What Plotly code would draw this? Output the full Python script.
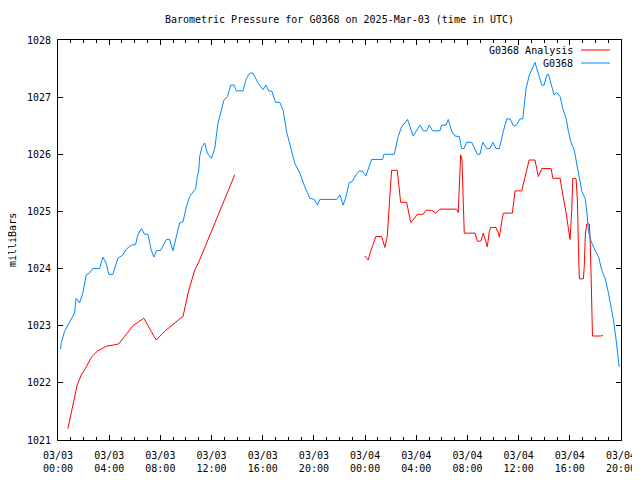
import pandas as pd
import plotly.graph_objects as go

# ---- data (hours since 2025-03-03 00:00 UTC, pressure in mb) ----
blue_h = [0.20,0.25,0.51,0.77,1.03,1.29,1.42,1.68,1.94,2.21,
          2.46,2.72,3.25,3.51,3.77,3.97,4.29,4.68,5.07,5.34,
          5.73,6.06,6.24,6.51,6.77,7.03,7.29,7.50,7.68,8.02,
          8.47,8.72,8.98,9.25,9.51,9.77,10.03,10.29,10.55,10.76,
          10.89,11.00,11.07,11.25,11.46,11.67,11.99,12.25,12.50,12.72,
          12.97,13.24,13.50,13.76,13.94,14.46,14.73,14.98,15.24,15.63,
          16.02,16.24,16.47,16.73,17.00,17.33,17.59,17.86,18.25,18.51,
          18.90,19.29,19.68,20.02,20.28,20.46,21.77,22.03,22.28,22.50,
          22.75,23.02,23.28,23.54,23.80,24.06,24.51,25.37,25.47,26.28,
          26.59,26.85,27.32,27.56,27.76,28.29,28.54,28.81,29.01,29.28,
          29.85,29.98,30.32,30.50,30.77,31.02,31.36,31.55,31.73,31.94,
          32.33,32.77,32.98,33.19,33.51,33.76,33.98,34.23,34.49,34.80,
          35.07,35.33,35.59,35.80,36.11,36.32,36.42,36.58,36.84,37.10,
          37.28,37.42,37.68,37.81,37.99,38.20,38.33,38.59,38.77,38.98,
          39.24,39.45,39.71,39.89,40.08,40.34,40.55,40.73,40.94,41.20,
          41.33,41.46,41.67,41.98,42.24,42.50,42.76,43.02,43.23,43.41,
          43.62,43.80,43.86]
blue_p = [1022.59,1022.69,1022.90,1023.01,1023.10,1023.22,1023.48,1023.40,1023.57,1023.89,
          1023.92,1024.00,1024.00,1024.20,1024.09,1023.90,1023.90,1024.18,1024.24,1024.34,
          1024.41,1024.42,1024.59,1024.70,1024.60,1024.60,1024.32,1024.20,1024.31,1024.32,
          1024.51,1024.51,1024.31,1024.56,1024.80,1024.82,1025.08,1025.26,1025.35,1025.40,
          1025.61,1025.72,1025.96,1026.13,1026.20,1026.02,1025.93,1026.10,1026.54,1026.75,
          1026.95,1027.01,1027.21,1027.21,1027.11,1027.11,1027.33,1027.42,1027.42,1027.25,
          1027.13,1027.21,1027.11,1027.10,1026.91,1026.91,1026.78,1026.40,1026.08,1025.84,
          1025.67,1025.43,1025.23,1025.21,1025.11,1025.21,1025.21,1025.29,1025.11,1025.25,
          1025.50,1025.53,1025.64,1025.71,1025.70,1025.62,1025.91,1025.91,1026.00,1026.00,
          1026.31,1026.48,1026.61,1026.43,1026.32,1026.51,1026.41,1026.41,1026.51,1026.41,
          1026.41,1026.51,1026.51,1026.61,1026.40,1026.32,1026.31,1026.10,1026.10,1026.21,
          1026.21,1026.00,1026.00,1026.21,1026.10,1026.10,1026.21,1026.10,1026.10,1026.40,
          1026.62,1026.62,1026.50,1026.50,1026.62,1026.62,1026.86,1027.15,1027.39,1027.53,
          1027.61,1027.50,1027.33,1027.21,1027.21,1027.39,1027.40,1027.21,1027.04,1027.08,
          1027.01,1026.80,1026.63,1026.40,1026.22,1026.08,1025.81,1025.55,1025.35,1025.23,
          1025.00,1024.65,1024.47,1024.32,1024.21,1023.97,1023.83,1023.57,1023.33,1023.10,
          1022.75,1022.34,1022.28]

red1_h = [0.77,1.50,1.82,2.21,2.64,3.11,3.77,4.29,4.73,5.20,5.85,6.24,6.71,
          7.29,7.68,8.33,8.98,9.51,9.77,10.16,10.68,11.07,13.81]
red1_p = [1021.20,1021.96,1022.14,1022.28,1022.46,1022.56,1022.64,1022.66,1022.68,1022.81,
          1023.00,1023.06,1023.13,1022.90,1022.75,1022.90,1023.03,1023.12,1023.16,1023.57,
          1023.97,1024.15,1025.64]

red2_h = [23.98,24.24,24.43,24.63,24.84,25.29,25.41,25.55,25.73,25.88,
          26.07,26.51,26.67,26.78,27.25,27.37,27.56,27.76,28.08,28.54,
          28.76,29.20,29.54,29.85,31.16,31.28,31.36,31.47,31.57,31.67,
          31.75,32.59,32.77,33.04,33.24,33.55,33.71,33.82,34.23,34.41,
          34.49,34.68,34.80,35.51,35.59,35.72,36.24,36.50,36.64,36.82,
          37.28,37.42,37.54,37.81,38.54,38.67,39.24,39.37,39.58,39.71,
          39.89,40.02,40.15,40.23,40.49,40.59,40.70,40.75,41.06,41.12,
          41.22,41.33,41.53,41.59,41.67,41.72,41.77,42.43,42.58]
red2_p = [1024.22,1024.15,1024.30,1024.44,1024.56,1024.56,1024.47,1024.37,1024.56,1025.02,
          1025.72,1025.72,1025.43,1025.16,1025.16,1025.02,1024.81,1024.85,1024.95,1024.95,
          1025.02,1025.02,1024.97,1025.04,1025.04,1024.98,1025.32,1025.99,1025.90,1024.87,
          1024.62,1024.62,1024.48,1024.48,1024.62,1024.38,1024.65,1024.72,1024.72,1024.62,
          1024.55,1024.82,1024.97,1024.97,1025.14,1025.36,1025.36,1025.58,1025.75,1025.90,
          1025.90,1025.75,1025.61,1025.75,1025.75,1025.58,1025.58,1025.40,1025.17,1024.97,
          1024.70,1024.51,1025.02,1025.58,1025.57,1025.20,1024.12,1023.82,1023.82,1024.00,
          1024.62,1024.78,1024.78,1024.50,1023.80,1023.13,1022.82,1022.82,1022.83]

series_names = ["G0368 Analysis", "G0368"]
series_colors = ["#ff0000", "#0088ff"]
y_ticks = [1021, 1022, 1023, 1024, 1025, 1026, 1027, 1028]

start = pd.Timestamp("2025-03-03 00:00")
end = pd.Timestamp("2025-03-04 20:00")


def to_time(hours):
    return [start + pd.Timedelta(hours=h) for h in hours]


red_x = to_time(red1_h) + [None] + to_time(red2_h)
red_y = red1_p + [None] + red2_p

FONT = "DejaVu Sans Mono"

fig = go.Figure()
fig.add_trace(go.Scatter(x=red_x, y=red_y, mode="lines", name=series_names[0],
                         line=dict(color=series_colors[0], width=1), connectgaps=False))
fig.add_trace(go.Scatter(x=to_time(blue_h), y=blue_p, mode="lines", name=series_names[1],
                         line=dict(color=series_colors[1], width=1)))

tickvals = pd.date_range(start, end, freq="4h")
ticktext = [t.strftime("%m/%d<br>%H:%M") for t in tickvals]

# page body has an 8px default margin; figure is sized/offset to compensate
W, H = 640, 472
fig.update_layout(
    width=W, height=H,
    margin=dict(l=50, r=27, t=32, b=40, autoexpand=False),
    paper_bgcolor="white", plot_bgcolor="white",
    showlegend=False,
    font=dict(family=FONT, size=10, color="black"),
    title=dict(text="Barometric Pressure for G0368 on 2025-Mar-03 (time in UTC)",
               x=0.5, xref="paper", xanchor="center",
               y=1 - 11 / H, yref="container", yanchor="middle",
               font=dict(family=FONT, size=10, color="black")),
    xaxis=dict(range=[start, end], tickvals=list(tickvals), ticktext=ticktext,
               showgrid=False, zeroline=False, showline=True, linecolor="black",
               linewidth=1, mirror="ticks", ticks="inside", ticklen=5,
               tickcolor="black", tickfont=dict(family=FONT, size=10),
               ticklabelstandoff=6, automargin=False,
               minor=dict(dtick=3600000, tick0=start, ticks="inside", ticklen=3,
                          tickcolor="black", showgrid=False)),
    yaxis=dict(range=[1021, 1028], tickvals=y_ticks, showgrid=False,
               zeroline=False, showline=True, linecolor="black", linewidth=1,
               mirror="ticks", ticks="inside", ticklen=5, tickcolor="black",
               tickfont=dict(family=FONT, size=10), ticklabelstandoff=4,
               automargin=False),
)

PW = 563.0  # plot-area width in px
PH = 400.0  # plot-area height in px

# y axis label
fig.add_annotation(text="milliBars", xref="paper", yref="paper",
                   x=(12 - 58) / PW, y=0.5, showarrow=False, textangle=-90,
                   xanchor="center", yanchor="middle",
                   font=dict(family=FONT, size=10, color="black"))

# gnuplot-style legend: text on left, sample line on right
leg_y = [1 - (50 - 40) / PH, 1 - (63 - 40) / PH]
for name, color, yy in zip(series_names, series_colors, leg_y):
    fig.add_annotation(text=name, xref="paper", yref="paper",
                       x=(575 - 58) / PW, y=yy, showarrow=False,
                       xanchor="right", yanchor="middle",
                       font=dict(family=FONT, size=10, color="black"))
    fig.add_shape(type="line", xref="paper", yref="paper",
                  x0=(581 - 58) / PW, x1=(610 - 58) / PW, y0=yy, y1=yy,
                  line=dict(color=color, width=1))

fig.write_html("out.html")
